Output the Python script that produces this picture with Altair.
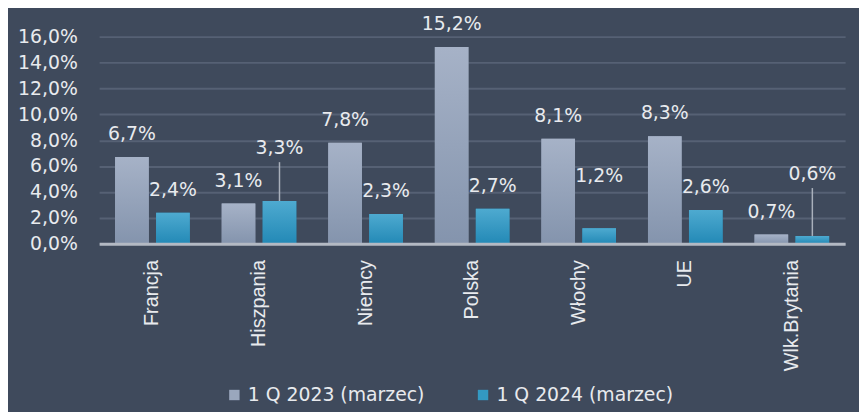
import altair as alt
import pandas as pd

countries = ["Francja", "Hiszpania", "Niemcy", "Polska", "Włochy", "UE", "Wlk.Brytania"]
series = ["1 Q 2023 (marzec)", "1 Q 2024 (marzec)"]
v2023 = [6.7, 3.1, 7.8, 15.2, 8.1, 8.3, 0.7]
v2024 = [2.4, 3.3, 2.3, 2.7, 1.2, 2.6, 0.6]
y_ticks = [0, 2, 4, 6, 8, 10, 12, 14, 16]

# labels that are lifted higher than the default (value units), with leader lines
lifted = {("Hiszpania", series[1]): (7.4, True),
          ("Wlk.Brytania", series[1]): (5.4, True),
          ("Włochy", series[1]): (5.2, False)}

rows = []
for c, a, b in zip(countries, v2023, v2024):
    for s, v in ((series[0], a), (series[1], b)):
        ly, lead = lifted.get((c, s), (v + 1.76, False))
        rows.append({"country": c, "series": s, "value": v,
                     "label": (f"{v:.1f}".replace(".", ",") + "%"),
                     "label_y": ly, "lead": lead, "lead_top": ly - 1.1})
df = pd.DataFrame(rows)

BG = "#3f4a5c"
TXT = "#e8eaee"

x_enc = alt.X("country:N", sort=countries, title=None,
              scale=alt.Scale(paddingInner=0.3, paddingOuter=0.15),
              axis=alt.Axis(labelAngle=270, labelAlign="right", labelBaseline="middle",
                            labelFont="Liberation Sans", labelFontSize=20, labelColor=TXT,
                            labelPadding=16, ticks=False, domainColor="#b3b9c3",
                            domainWidth=3, zindex=1, labelLimit=0))
xo_enc = alt.XOffset("series:N", sort=series,
                     scale=alt.Scale(domain=series, paddingInner=0.18))
y_scale = alt.Scale(domain=[0, 16], nice=False)
y_axis = alt.Axis(values=y_ticks, tickCount=9,
                  labelExpr="replace(format(datum.value, '.1f'), '.', ',') + '%'",
                  labelFont="DejaVu Sans", labelFontSize=19, labelColor=TXT,
                  labelPadding=22, ticks=False, domain=False, labelOverlap=False,
                  gridColor="#566174", gridWidth=2)


def Y(field):
    return alt.Y(field, title=None, scale=y_scale, axis=y_axis)


base = alt.Chart(df)

shadow = base.mark_bar(color="#1c2330", opacity=0.35, xOffset=3).encode(
    x=x_enc, xOffset=xo_enc, y=Y("value:Q"))

bars = base.mark_bar().encode(
    x=x_enc, xOffset=xo_enc, y=Y("value:Q"),
    color=alt.Color("series:N", scale=alt.Scale(domain=series, range=["#9aa7bd", "#3399c2"]),
                    legend=alt.Legend(title=None, orient="none", legendX=127, legendY=352,
                                      direction="horizontal", symbolType="square",
                                      symbolSize=110, symbolStrokeWidth=0,
                                      labelFont="DejaVu Sans", labelFontSize=19,
                                      labelColor=TXT, columnPadding=49, labelOffset=4,
                                      labelLimit=0)))


def grad(top, bottom):
    return alt.Gradient(gradient="linear", x1=0, x2=0, y1=0, y2=1,
                        stops=[alt.GradientStop(color=top, offset=0),
                               alt.GradientStop(color=bottom, offset=1)])


g1 = base.transform_filter(alt.datum.series == series[0]).mark_bar(
    color=grad("#a6b2c7", "#8494ad")).encode(x=x_enc, xOffset=xo_enc, y=Y("value:Q"))
g2 = base.transform_filter(alt.datum.series == series[1]).mark_bar(
    color=grad("#4eaad0", "#2389b6")).encode(x=x_enc, xOffset=xo_enc, y=Y("value:Q"))

leaders = base.transform_filter(alt.datum.lead == True).mark_rule(
    color="#a9b0bb", strokeWidth=1.5).encode(
    x=x_enc, xOffset=xo_enc, y=Y("value:Q"), y2="lead_top:Q")

labels = base.mark_text(font="DejaVu Sans", fontSize=19, color=TXT,
                        baseline="middle").encode(
    x=x_enc, xOffset=xo_enc, y=Y("label_y:Q"), text="label:N")

chart = alt.layer(shadow, bars, g1, g2, leaders, labels).properties(
    width=753, height=209,
    autosize=alt.AutoSizeParams(type="none"),
    padding={"left": 92, "top": 27, "right": 14, "bottom": 168},
    background=BG,
).configure_view(stroke=None)

chart.save("out.html", embed_options={"renderer": "svg", "actions": False})
